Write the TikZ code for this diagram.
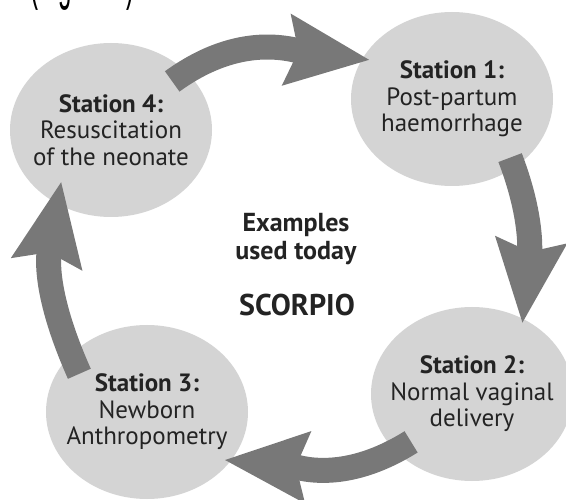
\documentclass[tikz,border=0pt]{standalone}
\usepackage{fontspec}
\setmainfont{PT Sans}
\newfontfamily\figfont{Liberation Sans}
\usetikzlibrary{arrows.meta,shapes.geometric}
\definecolor{stationgray}{RGB}{212,212,212}
\definecolor{arrowgray}{RGB}{120,120,120}
\definecolor{textgray}{RGB}{35,35,35}

\begin{document}
\begin{tikzpicture}[x=1pt,y=1pt,>=Stealth,
  station/.style={ellipse,fill=stationgray,minimum width=202pt,minimum height=174pt,inner sep=0pt},
  stationtext/.style={text=textgray,align=center,font=\fontsize{25}{26.5}\selectfont},
  cycle/.style={arrowgray,line width=25pt,-{Stealth[length=82pt,width=68pt,inset=10pt]}}]
  \useasboundingbox (0,0) rectangle (566,499);
  % caption cut off at the top
  \node[anchor=base west,inner sep=0pt,font=\figfont\fontsize{24}{28}\selectfont] (fig) at (30,500) {\scalebox{1}[2.4]{(Figure 1)}};
  % the four stations
  \node[station] (s4) at (111,369) {};
  \node[station] (s1) at (452,400) {};
  \node[station] (s2) at (472,105) {};
  \node[station] (s3) at (147,87) {};
  % arrows round the cycle
  \draw[cycle,shorten <=-17pt,shorten >=-8pt] (s4.38) to[out=36,in=173] (s1.156);
  \draw[cycle,shorten <=-11pt,shorten >=-5pt] (s1.-48) to[out=-69,in=84] (s2.56);
  \draw[cycle,shorten <=-18pt,shorten >=-7pt] (s2.217) to[out=212,in=-5] (s3.-30);
  \draw[cycle,shorten <=-21pt,shorten >=-23pt] (s3.143) to[out=114,in=-100] (s4.234);
  % texts
  \node[stationtext] (t4) at (s4) {\textbf{Station 4:}\\Resuscitation\\of the neonate};
  \node[stationtext] (t1) at (s1) {\textbf{Station 1:}\\Post-partum\\haemorrhage};
  \node[stationtext] (t2) at (s2) {\textbf{Station 2:}\\Normal vaginal\\delivery};
  \node[stationtext] (t3) at (s3) {\textbf{Station 3:}\\Newborn\\Anthropometry};
  \node[stationtext,font=\fontsize{26}{28}\selectfont\bfseries] (ex) at (296,260) {Examples\\used today};
  \node[stationtext,font=\fontsize{30}{32}\selectfont\bfseries] (sc) at (297,194) {SCORPIO};
\end{tikzpicture}
\end{document}
